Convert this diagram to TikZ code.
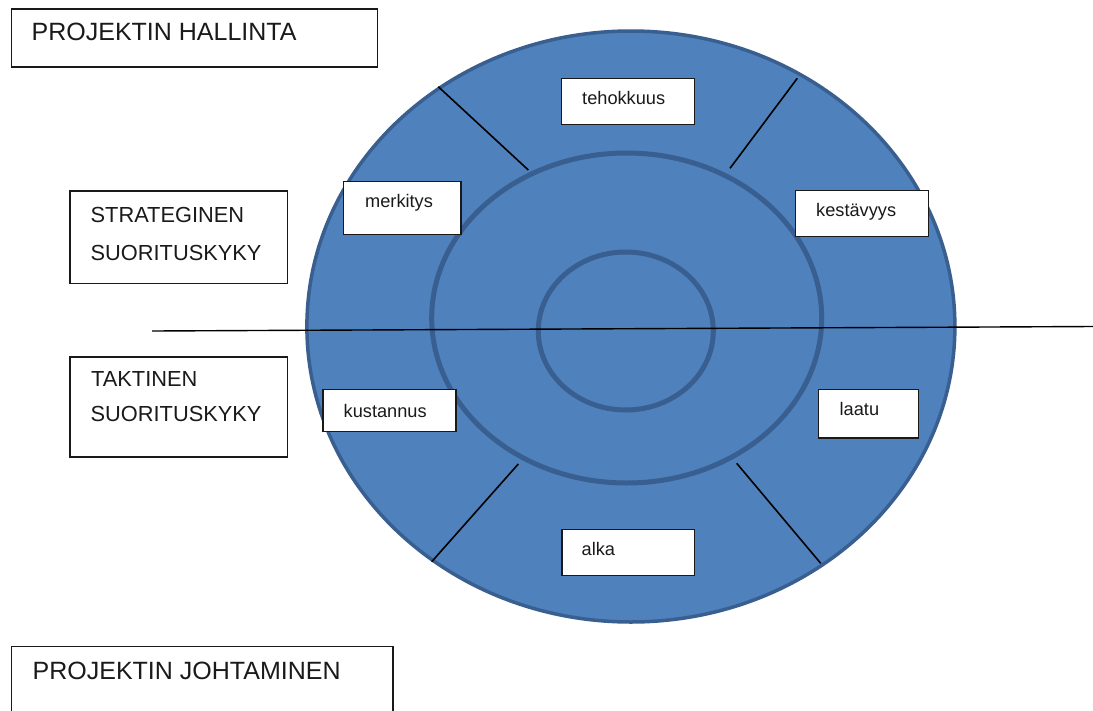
\documentclass[tikz,border=0pt]{standalone}
\usepackage{fontspec}
\setmainfont{Liberation Sans}
\usetikzlibrary{shapes.geometric}
\definecolor{ringfill}{HTML}{4F81BD}
\definecolor{ringline}{HTML}{385F8F}
\definecolor{txt}{HTML}{1A1A1A}
\begin{document}
\begin{tikzpicture}[x=1pt,y=-1pt,
  ring/.style={ellipse, inner sep=0pt, draw=ringline},
  box/.style={draw=black!90, line width=1.6pt, fill=white, inner sep=0pt, anchor=north west},
  bigtext/.style={font=\fontsize{25}{30}\selectfont, text=txt, anchor=base west, inner sep=0pt},
  midtext/.style={font=\fontsize{21.8}{26}\selectfont, text=txt, anchor=base west, inner sep=0pt},
  smalltext/.style={font=\fontsize{18.2}{22}\selectfont, text=txt, anchor=base west, inner sep=0pt},
  divider/.style={draw=black, line width=1.6pt},
  axis/.style={draw=black, line width=1.4pt}]
\useasboundingbox (0,0) rectangle (1093,710);
\fill[white] (0,0) rectangle (1093,710);

% rings
\node[ring, fill=ringfill, line width=3.5pt, minimum width=648pt, minimum height=591pt] (outer) at (630.9,326.5) {};
\node[ring, line width=5pt, minimum width=390pt, minimum height=330pt] (middle) at (626.7,318) {};
\node[ring, line width=5pt, minimum width=175pt, minimum height=158pt] (inner) at (625.8,331) {};

% dividers
\coordinate (d1a) at (438.3,86.7);  \coordinate (d1b) at (528.3,170);
\coordinate (d2a) at (797.3,78.3);  \coordinate (d2b) at (730,168.3);
\coordinate (d3a) at (431.7,561.7); \coordinate (d3b) at (518.3,464);
\coordinate (d4a) at (820.7,563.3); \coordinate (d4b) at (736.7,463.3);
\draw[divider] (d1a) -- (d1b);
\draw[divider] (d2a) -- (d2b);
\draw[divider] (d3a) -- (d3b);
\draw[divider] (d4a) -- (d4b);

% horizontal axis
\coordinate (hl) at (152,331);
\coordinate (hr) at (1093,326.5);
\draw[axis] (hl) -- (hr);

% left boxes
\node[box, minimum width=366pt, minimum height=58pt] (hallinta) at (10.5,8) {};
\node[bigtext] (hallintaT) at (31.5,40.5) {PROJEKTIN HALLINTA};

\node[box, minimum width=217.5pt, minimum height=92.5pt] (strat) at (69,190) {};
\node[midtext] (strat1) at (90.5,222) {STRATEGINEN};
\node[midtext] (strat2) at (90.5,260) {SUORITUSKYKY};

\node[box, minimum width=217.5pt, minimum height=100pt] (takt) at (69,356.3) {};
\node[midtext] (takt1) at (91,386) {TAKTINEN};
\node[midtext] (takt2) at (90.5,421.7) {SUORITUSKYKY};

\node[box, minimum width=381.5pt, minimum height=80pt] (johto) at (10.5,645.5) {};
\node[bigtext] (johtoT) at (32.5,679.3) {PROJEKTIN JOHTAMINEN};

% ring labels
\node[box, minimum width=133.3pt, minimum height=46pt] (teho) at (560.5,77.8) {};
\node[smalltext] (tehoT) at (582,104.3) {tehokkuus};

\node[box, minimum width=133.3pt, minimum height=46pt] (kest) at (794.5,189.8) {};
\node[smalltext] (kestT) at (816,216) {kestävyys};

\node[box, minimum width=117.5pt, minimum height=53pt] (merk) at (342.8,180.5) {};
\node[smalltext] (merkT) at (365,207.3) {merkitys};

\node[box, minimum width=133pt, minimum height=42pt] (kust) at (322.2,388.8) {};
\node[smalltext] (kustT) at (343.5,417.7) {kustannus};

\node[box, minimum width=100pt, minimum height=48.5pt] (laatu) at (817.8,388.8) {};
\node[smalltext] (laatuT) at (839.5,415.7) {laatu};

\node[box, minimum width=132.5pt, minimum height=46pt] (alka) at (561.2,528.8) {};
\node[smalltext] (alkaT) at (581.5,555.7) {alka};
\end{tikzpicture}
\end{document}
